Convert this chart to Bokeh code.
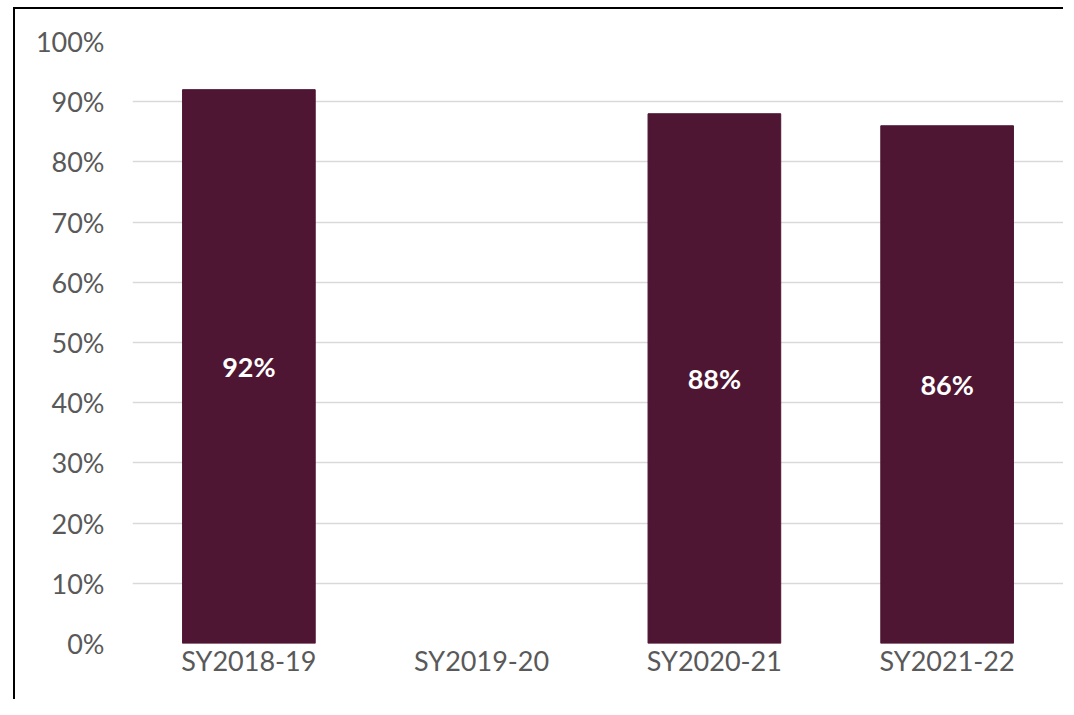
from bokeh.plotting import figure
from bokeh.models import ColumnDataSource, NumeralTickFormatter, FixedTicker, Range1d
from bokeh.embed import file_html
from bokeh.resources import INLINE
from bokeh.core.properties import value

categories = ["SY2018-19", "SY2019-20", "SY2020-21", "SY2021-22"]
values = [0.92, None, 0.88, 0.86]
labels = ["92%", "", "88%", "86%"]

cats = [c for c, v in zip(categories, values) if v is not None]
vals = [v for v in values if v is not None]
labs = [l for l, v in zip(labels, values) if v is not None]
mids = [v / 2 for v in vals]

src = ColumnDataSource(dict(cat=cats, val=vals, lab=labs, mid=mids))

FONT = "Lato"

p = figure(x_range=categories, y_range=Range1d(0, 1.0), width=1050, height=692,
           output_backend="svg", toolbar_location=None,
           min_border_left=117, min_border_right=2, min_border_top=32, min_border_bottom=58)
p.styles = {"margin-left": "13px", "margin-top": "7px",
            "border-left": "2px solid black", "border-top": "2px solid black"}

p.vbar(x="cat", top="val", bottom=0, width=0.57, source=src, color="#4E1633")
p.text(x="cat", y="mid", text="lab", source=src, text_color="white",
       text_font=value(FONT), text_font_style="bold", text_font_size="27px",
       text_align="center", text_baseline="middle")

p.outline_line_color = None
p.background_fill_color = "white"
p.border_fill_color = "white"

p.yaxis.ticker = FixedTicker(ticks=[i / 10 for i in range(11)])
p.yaxis.formatter = NumeralTickFormatter(format="0%")
p.ygrid.grid_line_color = "#D9D9D9"
p.ygrid.grid_line_width = 1.5
p.xgrid.grid_line_color = None

for ax in (p.xaxis, p.yaxis):
    ax.axis_line_color = None
    ax.major_tick_line_color = None
    ax.minor_tick_line_color = None
    ax.major_tick_out = 0
    ax.major_tick_in = 0
    ax.minor_tick_out = 0
    ax.major_label_text_font = FONT
    ax.major_label_text_font_size = "27px"
    ax.major_label_text_color = "#595959"
p.yaxis.major_label_standoff = 28
p.xaxis.major_label_standoff = 0
p.x_range.range_padding = 0

open("out.html", "w").write(file_html(p, INLINE))
